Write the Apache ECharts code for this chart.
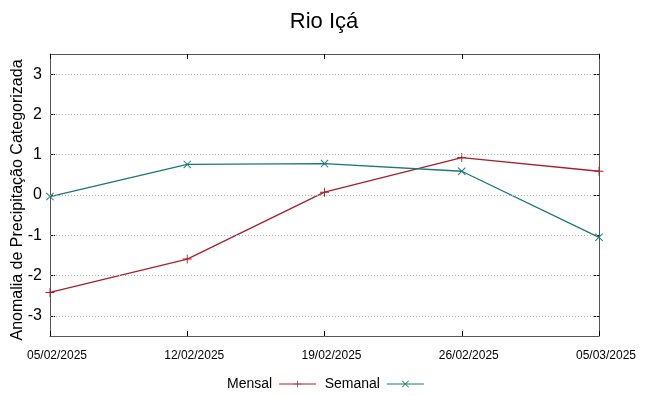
<!DOCTYPE html>
<html><head><meta charset="utf-8">
<script src="https://cdn.jsdelivr.net/npm/echarts@6/dist/echarts.min.js"></script>
<style>html,body{margin:0;padding:0;background:#fff}#c{width:648px;height:396px}</style>
</head><body><div id="c"></div>
<script>
const dates = ['05/02/2025','12/02/2025','19/02/2025','26/02/2025','05/03/2025'];
const mensal = [-2.42, -1.59, 0.07, 0.93, 0.59];
const semanal = [-0.04, 0.76, 0.78, 0.59, -1.05];
const yTicks = [-3,-2,-1,0,1,2,3];

const FONT = '"Liberation Sans",Arial,sans-serif';
const RED = '#a8202a';
const TEAL = '#1a7878';
const PLUS = 'path://M-0.5,-5H0.5V5H-0.5ZM-5,-0.5H5V0.5H-5Z';
const CROSS = 'path://M-4,-3.3L-3.3,-4L4,3.3L3.3,4ZM3.3,-4L4,-3.3L-3.3,4L-4,3.3Z';

const chart = echarts.init(document.getElementById('c'), null, {renderer:'canvas'});
const axisLineStyle = {color:'#555', width:1};
chart.setOption({
  animation:false,
  title:{text:'Rio Içá', left:'center', top:6, textStyle:{fontFamily:FONT, fontSize:22, fontWeight:'normal', color:'#000'}},
  legend:{
    left:222, top:372, align:'right', itemWidth:37, itemHeight:9, itemGap:8,
    textStyle:{fontFamily:FONT, fontSize:14, color:'#000', padding:[0,2,0,0]},
    lineStyle:{width:1},
    data:['Mensal','Semanal']
  },
  grid:{left:50, right:49, top:54, bottom:60, outerBoundsMode:'none', containLabel:false},
  xAxis:[{
    type:'category', data:dates, boundaryGap:false,
    axisLine:{onZero:false, lineStyle:axisLineStyle},
    axisTick:{inside:true, length:5, lineStyle:{color:'#000'}},
    axisLabel:{fontFamily:FONT, fontSize:12, color:'#000', margin:14, padding:[0,0,0,14], showMinLabel:true, showMaxLabel:true},
    splitLine:{show:false}
  },{
    type:'category', data:dates, boundaryGap:false, position:'top',
    axisLine:{onZero:false, lineStyle:axisLineStyle},
    axisTick:{inside:true, length:5, lineStyle:{color:'#000'}},
    axisLabel:{show:false}, splitLine:{show:false}
  }],
  yAxis:[{
    type:'value', min:-3.5, max:3.5, interval:0.5,
    name:'Anomalia de Precipitação Categorizada', nameLocation:'middle', nameGap:24, nameMoveOverlap:false,
    nameTextStyle:{fontFamily:FONT, fontSize:16, color:'#000', padding:[0,10,0,0]},
    axisLine:{show:true, onZero:false, lineStyle:axisLineStyle},
    axisTick:{show:true, inside:true, length:5, lineStyle:{color:'#000'}, customValues:yTicks},
    axisLabel:{fontFamily:FONT, fontSize:16, color:'#000', margin:8, customValues:yTicks},
    splitLine:{show:false}
  },{
    type:'value', min:-3.5, max:3.5, interval:0.5, position:'right',
    axisLine:{show:true, onZero:false, lineStyle:axisLineStyle},
    axisTick:{show:true, inside:true, length:5, lineStyle:{color:'#000'}, customValues:yTicks},
    axisLabel:{show:false}, splitLine:{show:false}
  }],
  series:[
    {name:'Mensal', type:'line', data:mensal, symbol:PLUS, symbolSize:9, showAllSymbol:true,
     lineStyle:{color:RED, width:1.3}, itemStyle:{color:RED},
     markLine:{silent:true, symbol:'none', label:{show:false},
       lineStyle:{color:'#b0b0b0', type:[1,2], width:1},
       data:yTicks.map(v=>({yAxis:v}))}
    },
    {name:'Semanal', type:'line', data:semanal, symbol:CROSS, symbolSize:8, showAllSymbol:true,
     lineStyle:{color:TEAL, width:1.3}, itemStyle:{color:TEAL}}
  ]
});
</script></body></html>
